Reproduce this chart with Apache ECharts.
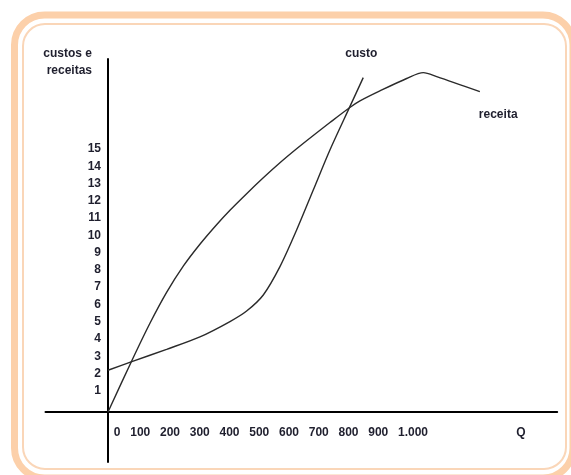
<!DOCTYPE html>
<html>
<head>
<meta charset="utf-8">
<script src="https://cdn.jsdelivr.net/npm/echarts@6/dist/echarts.min.js"></script>
<style>
html,body{margin:0;padding:0;background:#fff;}
#chart{width:571px;height:475px;}
</style>
</head>
<body>
<div id="chart"></div>
<script>
// Quantity ticks (Q) and revenue/cost ticks
const xTicks = [0, 100, 200, 300, 400, 500, 600, 700, 800, 900, 1000];
const yTicks = [1, 2, 3, 4, 5, 6, 7, 8, 9, 10, 11, 12, 13, 14, 15];

// receita (revenue) curve: Q and value
const receitaQ = [0, 80, 141, 197, 253, 309, 365, 410, 466, 522, 578, 634, 690, 746, 813, 847, 914, 1004, 1060, 1105, 1250];
const receitaV = [0, 2.97, 5.14, 6.93, 8.45, 9.72, 10.85, 11.69, 12.65, 13.57, 14.44, 15.25, 16.02, 16.77, 17.64, 18.02, 18.6, 19.32, 19.66, 19.43, 18.56];

// custo (cost) curve: Q and value
const custoQ = [0, 80, 197, 309, 410, 466, 522, 578, 634, 690, 746, 813, 858];
const custoV = [2.42, 2.92, 3.63, 4.35, 5.24, 5.85, 6.78, 8.42, 10.54, 12.86, 15.18, 17.69, 19.37];

const zip = (a, b) => a.map((v, i) => [v, b[i]]);

const textColor = '#1f1f2e';
const font = 'Liberation Sans, Arial, sans-serif';
const txt = { color: textColor, fontFamily: font, fontWeight: 'bold', fontSize: 12 };

const chart = echarts.init(document.getElementById('chart'));
chart.setOption({
  animation: false,
  backgroundColor: '#fff',
  grid: [
    { left: 45.5, right: 13.8, top: 59, bottom: 13, containLabel: false, outerBoundsMode: 'none' },
    { left: 108, right: 13.8, top: 59, bottom: 63, containLabel: false, outerBoundsMode: 'none' }
  ],
  xAxis: [
    {
      gridIndex: 0, type: 'value', min: -210, max: 1510,
      axisLine: { onZero: true, lineStyle: { color: '#000', width: 2 } },
      axisTick: { show: false }, splitLine: { show: false }, axisLabel: { show: false }
    },
    {
      gridIndex: 1, type: 'value', min: 0, max: 1510,
      name: 'Q',
      nameLocation: 'end',
      nameGap: -41,
      nameTextStyle: Object.assign({}, txt, { align: 'left', verticalAlign: 'top', padding: [15, 0, 0, 0] }),
      axisLine: { show: false }, axisTick: { show: false }, splitLine: { show: false },
      axisLabel: {
        customValues: xTicks,
        margin: 15,
        color: textColor, fontFamily: font, fontWeight: 'bold', fontSize: 12,
        formatter: v => v === 0 ? '{z|0}' : v === 1000 ? '{k|1.000}' : '{n|' + v + '}',
        rich: {
          z: Object.assign({ padding: [0, 0, 0, 18] }, txt),
          k: Object.assign({ padding: [0, 0, 0, 15] }, txt),
          n: Object.assign({ padding: [0, 0, 0, 5] }, txt)
        }
      }
    }
  ],
  yAxis: [
    {
      gridIndex: 0, type: 'value', min: -2.9, max: 20.45,
      axisLine: { onZero: true, lineStyle: { color: '#000', width: 2 } },
      axisTick: { show: false }, splitLine: { show: false }, axisLabel: { show: false }
    },
    {
      gridIndex: 1, type: 'value', min: 0, max: 20.45,
      name: 'custos e\nreceitas',
      nameLocation: 'end',
      nameGap: -3,
      nameTextStyle: Object.assign({}, txt, { align: 'right', verticalAlign: 'middle', lineHeight: 17, padding: [0, 16, 0, 0] }),
      axisLine: { show: false }, axisTick: { show: false }, splitLine: { show: false },
      axisLabel: {
        customValues: yTicks,
        margin: 7,
        color: textColor, fontFamily: font, fontWeight: 'bold', fontSize: 12,
        verticalAlign: 'bottom', lineHeight: 8
      }
    }
  ],
  series: [
    {
      name: 'receita',
      type: 'line',
      xAxisIndex: 1, yAxisIndex: 1,
      data: zip(receitaQ, receitaV),
      smooth: 0.3,
      symbol: 'none', clip: false,
      lineStyle: { color: '#2a2a2a', width: 1.4 },
      endLabel: Object.assign({ show: true, formatter: '{a}', offset: [-9, 23] }, txt)
    },
    {
      name: 'custo',
      type: 'line',
      xAxisIndex: 1, yAxisIndex: 1,
      data: zip(custoQ, custoV),
      smooth: 0.3,
      symbol: 'none', clip: false,
      lineStyle: { color: '#2a2a2a', width: 1.4 },
      endLabel: Object.assign({ show: true, formatter: '{a}', offset: [-26, -24] }, txt)
    }
  ],
  graphic: [
    { type: 'rect', z: -1, silent: true, shape: { x: 14.5, y: 15, width: 558.5, height: 463, r: 30 }, style: { fill: 'none', stroke: '#FCD0AA', lineWidth: 7 } },
    { type: 'rect', z: -1, silent: true, shape: { x: 23, y: 24, width: 543, height: 445, r: 22 }, style: { fill: 'none', stroke: '#FAD6B8', lineWidth: 2 } }
  ]
});
</script>
</body>
</html>
